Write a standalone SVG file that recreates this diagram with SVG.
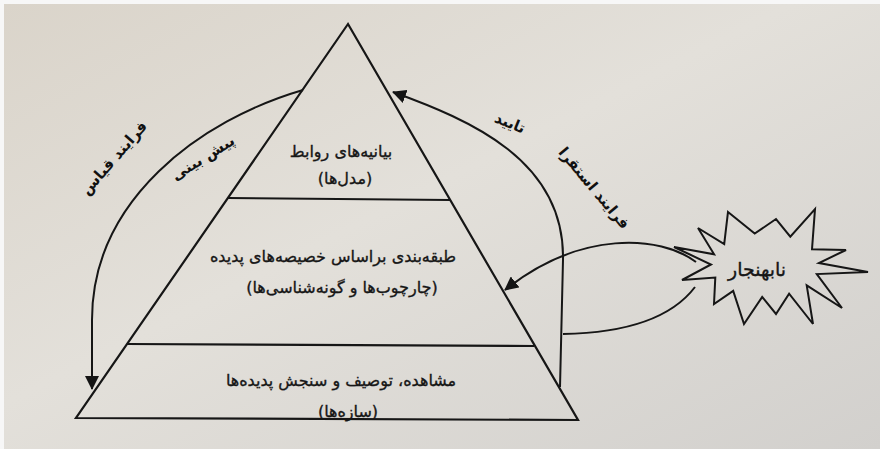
<svg xmlns="http://www.w3.org/2000/svg" width="880" height="449" viewBox="0 0 880 449">
  <defs>
    <linearGradient id="bg" x1="0" y1="0" x2="1" y2="1">
      <stop offset="0" stop-color="#dad4ca"/>
      <stop offset="0.45" stop-color="#e3e0da"/>
      <stop offset="1" stop-color="#d2d0cd"/>
    </linearGradient>
    <marker id="arrow" viewBox="0 0 14 14" refX="13" refY="7" markerWidth="14" markerHeight="14" markerUnits="userSpaceOnUse" orient="auto">
      <path d="M0,0 L14,7 L0,14 Z" fill="#141414"/>
    </marker>
    <style>
      .edge { fill: none; stroke: #161616; stroke-width: 2.2; stroke-linejoin: miter; }
      .conn { fill: none; stroke: #161616; stroke-width: 2; }
      .lbl { font-family: "DejaVu Sans", sans-serif; font-size: 16px; fill: #161616; stroke: #161616; stroke-width: 0.35; text-anchor: middle; direction: rtl; unicode-bidi: embed; }
      .rot { font-family: "DejaVu Sans", sans-serif; font-size: 15px; font-weight: bold; fill: #111111; text-anchor: middle; direction: rtl; unicode-bidi: embed; }
    </style>
  </defs>
  <rect x="0" y="0" width="880" height="449" fill="#f7f7f7"/>
  <rect x="4" y="4" width="876" height="445" fill="url(#bg)"/>

  <g id="pyramid">
    <polygon class="edge" points="348,24 76,418 578,420"/>
    <line class="edge" x1="228" y1="198" x2="450" y2="200" stroke-width="2.5"/>
    <line class="edge" x1="127" y1="344" x2="534" y2="346" stroke-width="2.5"/>
  </g>

  <g id="level-top">
    <text class="lbl" x="341" y="157">بیانیه&#x200C;های روابط</text>
    <text class="lbl" x="345" y="184">(مدل&#x200C;ها)</text>
  </g>
  <g id="level-middle">
    <text class="lbl" x="333" y="262">طبقه&#x200C;بندی براساس خصیصه&#x200C;های پدیده</text>
    <text class="lbl" x="342" y="293">(چارچوب&#x200C;ها و گونه&#x200C;شناسی&#x200C;ها)</text>
  </g>
  <g id="level-bottom">
    <text class="lbl" x="341" y="386">مشاهده، توصیف و سنجش پدیده&#x200C;ها</text>
    <text class="lbl" x="348" y="417">(سازه&#x200C;ها)</text>
  </g>

  <g id="anomaly">
    <polygon fill="none" stroke="#161616" stroke-width="2" stroke-linejoin="miter" points="728,212 754.7,233.6 776,219 790.3,236.7 815,209 812,249.3 846,250 818.9,263 868,272 816.8,274.1 842,308 806.7,285.4 813,324 789.1,293.6 776,314 762.2,297 744,324 733.2,290.9 714,304 715.3,277.5 682,280 711,264.5 674,247 714.1,254.3 698,228 724.2,244"/>
    <text class="lbl" x="757" y="276" style="font-size:19px">نابهنجار</text>
  </g>

  <g id="connectors">
    <path class="conn" d="M 303 90 C 200 120, 92 200, 92 320 L 92 389" marker-end="url(#arrow)"/>
    <path class="conn" d="M 560 387 L 563 260 C 565 160, 470 120, 393 92" marker-end="url(#arrow)"/>
    <path class="conn" d="M 696 262 C 660 235, 580 230, 505 290" marker-end="url(#arrow)"/>
    <path class="conn" d="M 695 287 C 670 320, 620 333, 563 334"/>
  </g>

  <g id="labels">
    <text class="rot" transform="translate(114,158) rotate(-49)" y="5">فرایند قیاس</text>
    <text class="rot" transform="translate(203,158) rotate(-32)" y="5">پیش بینی</text>
    <text class="rot" transform="translate(510,123) rotate(22)" y="5">تایید</text>
    <text class="rot" transform="translate(594,188) rotate(50)" y="5">فرایند استقرا</text>
  </g>
</svg>
